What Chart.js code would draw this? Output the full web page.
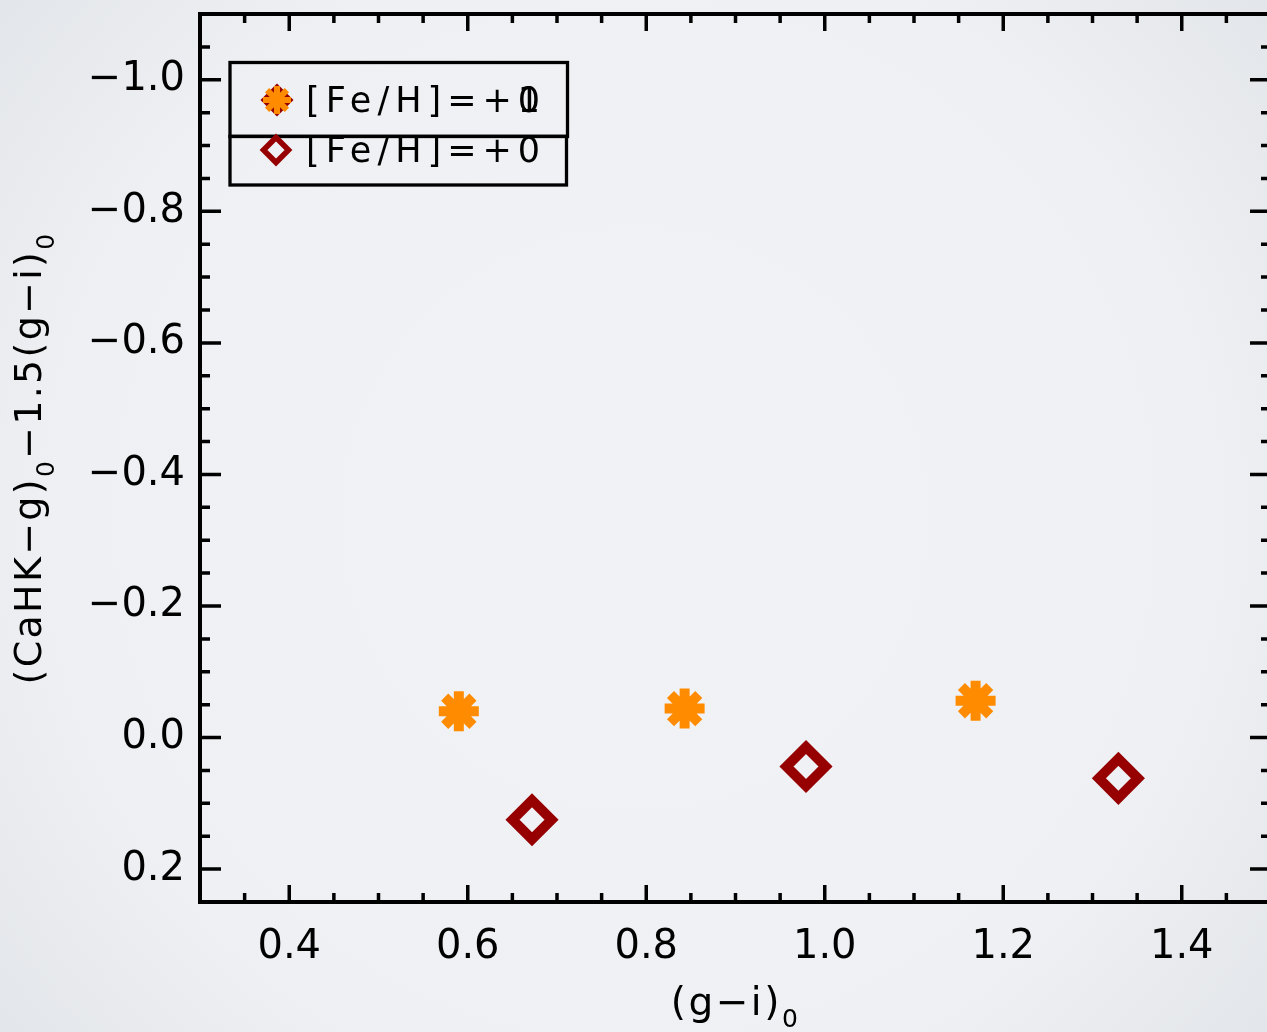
<!DOCTYPE html>
<html>
<head>
<meta charset="utf-8">
<script src="https://cdn.jsdelivr.net/npm/chart.js@4/dist/chart.umd.min.js"></script>
<style>
  html, body { margin: 0; padding: 0; overflow: hidden; background: #eceef1; }
  #wrap { width: 1290px; height: 1032px; }
</style>
</head>
<body>
<div id="wrap"><canvas id="c" width="1290" height="1032"></canvas></div>
<script>
// (g-i)_0 colour and CaHK index for the two metallicity tracks
const solarGiX = [0.590, 0.843, 1.169];
const solarIndex = [-0.040, -0.044, -0.056];
const metalGiX = [0.672, 0.979, 1.329];
const metalIndex = [0.125, 0.044, 0.062];

const seriesLabels = ['[Fe/H]=+0', '[Fe/H]=+0'];
const overlayDigit = '1';

const xTickValues = [0.4, 0.6, 0.8, 1.0, 1.2, 1.4];
const yTickValues = [-1.0, -0.8, -0.6, -0.4, -0.2, 0.0, 0.2];
const minorStep = 0.05;

const FONT = "'DejaVu Sans', sans-serif";
const STAR_COLOR = '#ff8c00';
const DIAMOND_COLOR = '#960000';

function fmtTick(v) {
  const s = Math.abs(v).toFixed(1);
  return (v < -1e-9 ? '\u2212' : '') + s;
}

function zeroPad(s) {
  s.paddingLeft = 0; s.paddingRight = 0; s.paddingTop = 0; s.paddingBottom = 0;
}

const points = (xs, ys) => xs.map((x, i) => ({ x: x, y: ys[i] }));

// soft vignette behind everything
const backdrop = {
  id: 'backdrop',
  beforeDraw(chart) {
    const ctx = chart.ctx;
    const g = ctx.createRadialGradient(633, 516, 120, 633, 516, 880);
    g.addColorStop(0, '#f1f2f5');
    g.addColorStop(0.6, '#eef0f3');
    g.addColorStop(1, '#e0e3e7');
    ctx.save();
    ctx.fillStyle = g;
    ctx.fillRect(0, 0, chart.width, chart.height);
    ctx.restore();
  }
};

function minorValues(min, max, majors) {
  const out = [];
  const n = Math.round((max - min) / minorStep);
  for (let i = 0; i <= n; i++) {
    const v = +(min + i * minorStep).toFixed(4);
    if (v <= min + 1e-6 || v >= max - 1e-6) continue;
    if (majors.some(m => Math.abs(m - v) < 1e-6)) continue;
    out.push(v);
  }
  return out;
}

// box frame with inward major/minor ticks on all four sides
const frame = {
  id: 'frame',
  afterDraw(chart) {
    const ctx = chart.ctx;
    const { left, right, top, bottom } = chart.chartArea;
    const xs = chart.scales.x, ys = chart.scales.y;
    ctx.save();
    ctx.strokeStyle = '#000';
    ctx.lineCap = 'butt';
    ctx.lineWidth = 3.5;
    ctx.beginPath();
    const xMin = minorValues(xs.min, xs.max, xTickValues);
    xTickValues.forEach(v => {
      const p = xs.getPixelForValue(v);
      ctx.moveTo(p, bottom); ctx.lineTo(p, bottom - 17);
      ctx.moveTo(p, top); ctx.lineTo(p, top + 17);
    });
    xMin.forEach(v => {
      const p = xs.getPixelForValue(v);
      ctx.moveTo(p, bottom); ctx.lineTo(p, bottom - 9);
      ctx.moveTo(p, top); ctx.lineTo(p, top + 9);
    });
    const yMin = minorValues(ys.min, ys.max, yTickValues);
    yTickValues.forEach(v => {
      const p = ys.getPixelForValue(v);
      ctx.moveTo(left, p); ctx.lineTo(left + 21, p);
      ctx.moveTo(right, p); ctx.lineTo(right - 21, p);
    });
    yMin.forEach(v => {
      const p = ys.getPixelForValue(v);
      ctx.moveTo(left, p); ctx.lineTo(left + 10, p);
      ctx.moveTo(right, p); ctx.lineTo(right - 10, p);
    });
    ctx.stroke();
    ctx.lineWidth = 4;
    ctx.strokeRect(left, top, right - left, bottom - top);
    ctx.restore();
  }
};

function drawRich(ctx, segs, cx, baseline, mainSize, subSize, subDrop, spacing) {
  let total = 0;
  const widths = segs.map(s => {
    ctx.font = (s.sub ? subSize : mainSize) + 'px ' + FONT;
    ctx.letterSpacing = spacing + 'px';
    const w = ctx.measureText(s.t).width;
    total += w;
    return w;
  });
  let x = cx - total / 2;
  ctx.textAlign = 'left';
  ctx.textBaseline = 'alphabetic';
  segs.forEach((s, i) => {
    ctx.font = (s.sub ? subSize : mainSize) + 'px ' + FONT;
    ctx.letterSpacing = spacing + 'px';
    ctx.fillText(s.t, x, baseline + (s.sub ? subDrop : 0));
    x += widths[i];
  });
}

// axis titles with subscripted zero
const axisTitles = {
  id: 'axisTitles',
  afterDraw(chart) {
    const ctx = chart.ctx;
    const { left, right, top, bottom } = chart.chartArea;
    ctx.save();
    ctx.fillStyle = '#000';
    drawRich(ctx, [{ t: '(g\u2212i)' }, { t: '0', sub: true }],
      (left + right) / 2, 1015, 39, 25, 12, 2.5);
    ctx.translate(41, (top + bottom) / 2);
    ctx.rotate(-Math.PI / 2);
    drawRich(ctx, [
      { t: '(CaHK\u2212g)' }, { t: '0', sub: true },
      { t: '\u22121.5(g\u2212i)' }, { t: '0', sub: true }
    ], 0, 0, 38, 25, 13, 2.3);
    ctx.restore();
  }
};

function marker(ctx, style, r, bw, color, x, y) {
  ctx.save();
  ctx.lineWidth = bw;
  ctx.strokeStyle = color;
  ctx.fillStyle = 'rgba(0,0,0,0)';
  if (Chart.helpers && Chart.helpers.drawPoint) {
    Chart.helpers.drawPoint(ctx, { pointStyle: style, radius: r, borderWidth: bw, rotation: 0 }, x, y);
  } else {
    ctx.beginPath();
    if (style === 'rectRot') {
      ctx.moveTo(x - r, y); ctx.lineTo(x, y - r); ctx.lineTo(x + r, y); ctx.lineTo(x, y + r); ctx.closePath();
    } else {
      for (let k = 0; k < 4; k++) {
        const a = k * Math.PI / 4;
        ctx.moveTo(x - Math.cos(a) * r, y - Math.sin(a) * r);
        ctx.lineTo(x + Math.cos(a) * r, y + Math.sin(a) * r);
      }
    }
    ctx.stroke();
  }
  ctx.restore();
}

// boxed legend in the upper-left corner
const legendBox = {
  id: 'legendBox',
  afterDraw(chart) {
    const ctx = chart.ctx;
    ctx.save();
    ctx.strokeStyle = '#000';
    ctx.lineWidth = 3.3;
    ctx.strokeRect(230, 62.5, 337.5, 74);
    ctx.strokeRect(230, 136.3, 336.5, 48.7);

    marker(ctx, 'rectRot', 13, 5, DIAMOND_COLOR, 277, 100);
    marker(ctx, 'star', 14, 6, STAR_COLOR, 277, 100);
    marker(ctx, 'rectRot', 12.5, 5.5, DIAMOND_COLOR, 276, 150);

    ctx.fillStyle = '#000';
    ctx.textAlign = 'left';
    ctx.textBaseline = 'alphabetic';
    ctx.font = '35px ' + FONT;
    ctx.letterSpacing = '6px';
    const tx = 306;
    ctx.fillText(seriesLabels[0], tx, 112);
    ctx.fillText(seriesLabels[1], tx, 162);
    const prefix = seriesLabels[0].slice(0, -1);
    const pw = ctx.measureText(prefix).width;
    ctx.letterSpacing = '0px';
    const dw = ctx.measureText(seriesLabels[0].slice(-1)).width;
    ctx.textAlign = 'center';
    ctx.fillText(overlayDigit, tx + pw + dw / 2, 112);
    ctx.restore();
  }
};

new Chart(document.getElementById('c'), {
  type: 'scatter',
  data: {
    datasets: [
      {
        label: seriesLabels[0],
        data: points(solarGiX, solarIndex),
        pointStyle: 'star',
        pointRadius: 20,
        pointHoverRadius: 20,
        borderWidth: 10,
        pointBorderWidth: 10,
        borderColor: STAR_COLOR,
        backgroundColor: STAR_COLOR
      },
      {
        label: seriesLabels[1],
        data: points(metalGiX, metalIndex),
        pointStyle: 'rectRot',
        pointRadius: 19.5,
        pointHoverRadius: 19.5,
        borderWidth: 10,
        pointBorderWidth: 10,
        borderColor: DIAMOND_COLOR,
        backgroundColor: 'rgba(0,0,0,0)'
      }
    ]
  },
  options: {
    responsive: false,
    devicePixelRatio: 1,
    animation: false,
    events: [],
    layout: { autoPadding: false, padding: { left: 0, top: 14, right: 19, bottom: 0 } },
    plugins: { legend: { display: false }, tooltip: { enabled: false } },
    scales: {
      x: {
        type: 'linear',
        position: 'bottom',
        min: 0.3,
        max: 1.5,
        afterBuildTicks: s => { s.ticks = xTickValues.map(v => ({ value: v })); },
        afterFit: s => { s.height = 130; zeroPad(s); },
        grid: { display: false, drawTicks: false },
        border: { display: false },
        ticks: {
          font: { family: FONT, size: 40 },
          color: '#000',
          padding: 22,
          maxRotation: 0,
          autoSkip: false,
          callback: v => fmtTick(v)
        }
      },
      y: {
        type: 'linear',
        position: 'left',
        reverse: true,
        min: -1.1,
        max: 0.25,
        afterBuildTicks: s => { s.ticks = yTickValues.map(v => ({ value: v })); },
        afterFit: s => { s.width = 200; zeroPad(s); },
        grid: { display: false, drawTicks: false },
        border: { display: false },
        ticks: {
          font: { family: FONT, size: 40 },
          color: '#000',
          padding: 15,
          autoSkip: false,
          callback: v => fmtTick(v)
        }
      }
    }
  },
  plugins: [backdrop, frame, axisTitles, legendBox]
});
</script>
</body>
</html>
